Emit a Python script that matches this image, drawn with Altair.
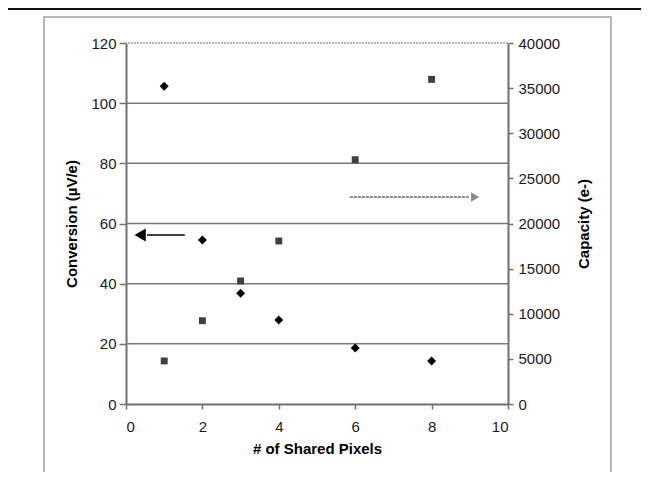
import altair as alt
import pandas as pd

# ---- data ----
pixels = [1, 2, 3, 4, 6, 8]
conversion = [105.6, 54.5, 36.8, 27.9, 18.6, 14.3]      # µV/e (left axis)
capacity = [4770, 9230, 13630, 18060, 27070, 35970]      # e- (right axis)

x_ticks = [0, 2, 4, 6, 8, 10]
left_ticks = [0, 20, 40, 60, 80, 100, 120]
right_ticks = [0, 5000, 10000, 15000, 20000, 25000, 30000, 35000, 40000]
grid_values = [20, 40, 60, 80, 100]
top_value = [120]

# annotation arrows (data coordinates on the left scale)
left_arrow_line_x = [0.55, 1.54]
left_arrow_head_x = [0.37]
left_arrow_y = 56.2
right_arrow_line_x = [5.86, 9.0]
right_arrow_head_x = [9.14]
right_arrow_y = 68.8

FONT = "Liberation Sans"

df = pd.DataFrame({"pixels": pixels, "conversion": conversion, "capacity": capacity})

xscale = alt.Scale(domain=[0, 10], nice=False, zero=True)
lscale = alt.Scale(domain=[0, 120], nice=False)
rscale = alt.Scale(domain=[0, 40000], nice=False)

xaxis = alt.Axis(values=x_ticks, title="# of Shared Pixels", grid=False,
                 tickSize=5, labelPadding=10, titlePadding=7)
laxis = alt.Axis(values=left_ticks, title="Conversion (µV/e)", grid=False,
                 tickSize=7, labelPadding=3, titlePadding=11, orient="left")
raxis = alt.Axis(values=right_ticks, title="Capacity (e-)", grid=False, format="d",
                 tickSize=5, labelPadding=5, titlePadding=17, orient="right",
                 titleAngle=270, titleBaseline="top")

X = alt.X("pixels:Q", scale=xscale, axis=xaxis)

# decorative frames (style only)
deco = alt.Data(values=[{"k": 0}])
inner_frame = alt.Chart(deco).mark_rect(fill=None, stroke="#a0a0a0", strokeWidth=1.5).encode(
    x=alt.value(-82), x2=alt.value(485), y=alt.value(-26), y2=alt.value(445))
outer_top = alt.Chart(deco).mark_rule(color="#111", strokeWidth=2).encode(
    x=alt.value(-118), x2=alt.value(520), y=alt.value(-34))

grid = alt.Chart(pd.DataFrame({"g": grid_values})).mark_rule(color="#7a7a7a", strokeWidth=1.5).encode(
    y=alt.Y("g:Q", scale=lscale, axis=laxis))
top_line = alt.Chart(pd.DataFrame({"g": top_value})).mark_rule(
    color="#9a9a9a", strokeWidth=1.5, strokeDash=[2, 1]).encode(
    y=alt.Y("g:Q", scale=lscale, axis=laxis))

diamonds = alt.Chart(df).mark_point(shape="diamond", filled=True, color="#000", size=80, opacity=1).encode(
    x=X, y=alt.Y("conversion:Q", scale=lscale, axis=laxis))

la_df = pd.DataFrame({"x": [left_arrow_line_x[0]], "x2": [left_arrow_line_x[1]], "y": [left_arrow_y]})
left_arrow_line = alt.Chart(la_df).mark_rule(color="#000", strokeWidth=1.5).encode(
    x=alt.X("x:Q", scale=xscale, axis=xaxis), x2="x2:Q", y=alt.Y("y:Q", scale=lscale, axis=laxis))
left_arrow_head = alt.Chart(pd.DataFrame({"x": left_arrow_head_x, "y": [left_arrow_y]})).mark_point(
    shape="triangle-left", filled=True, color="#000", size=170, opacity=1).encode(
    x=alt.X("x:Q", scale=xscale, axis=xaxis), y=alt.Y("y:Q", scale=lscale, axis=laxis))

ra_df = pd.DataFrame({"x": [right_arrow_line_x[0]], "x2": [right_arrow_line_x[1]], "y": [right_arrow_y]})
right_arrow_line = alt.Chart(ra_df).mark_rule(color="#8a8a8a", strokeWidth=2, strokeDash=[3, 1]).encode(
    x=alt.X("x:Q", scale=xscale, axis=xaxis), x2="x2:Q", y=alt.Y("y:Q", scale=lscale, axis=laxis))
right_arrow_head = alt.Chart(pd.DataFrame({"x": right_arrow_head_x, "y": [right_arrow_y]})).mark_point(
    shape="triangle-right", filled=True, color="#8a8a8a", size=90, opacity=1).encode(
    x=alt.X("x:Q", scale=xscale, axis=xaxis), y=alt.Y("y:Q", scale=lscale, axis=laxis))

left_layer = alt.layer(inner_frame, outer_top, grid, top_line, left_arrow_line, left_arrow_head,
                       right_arrow_line, right_arrow_head, diamonds)

squares = alt.Chart(df).mark_point(shape="square", filled=True, color="#404040", size=48, opacity=1).encode(
    x=X, y=alt.Y("capacity:Q", scale=rscale, axis=raxis))

chart = alt.layer(left_layer, squares).resolve_scale(y="independent").properties(
    width=382, height=361,
    padding={"left": 118, "top": 35, "right": 133, "bottom": 68},
    autosize=alt.AutoSizeParams(type="none"),
).configure_view(stroke=None).configure_axis(
    labelFont=FONT, titleFont=FONT, labelFontSize=15, titleFontSize=15,
    labelColor="#1a1a1a", titleColor="#000", titleFontWeight="bold",
    domainColor="#707070", domainWidth=2, tickColor="#707070", tickWidth=1.5,
)

chart.save("out.html", embed_options={"renderer": "svg", "actions": False})
